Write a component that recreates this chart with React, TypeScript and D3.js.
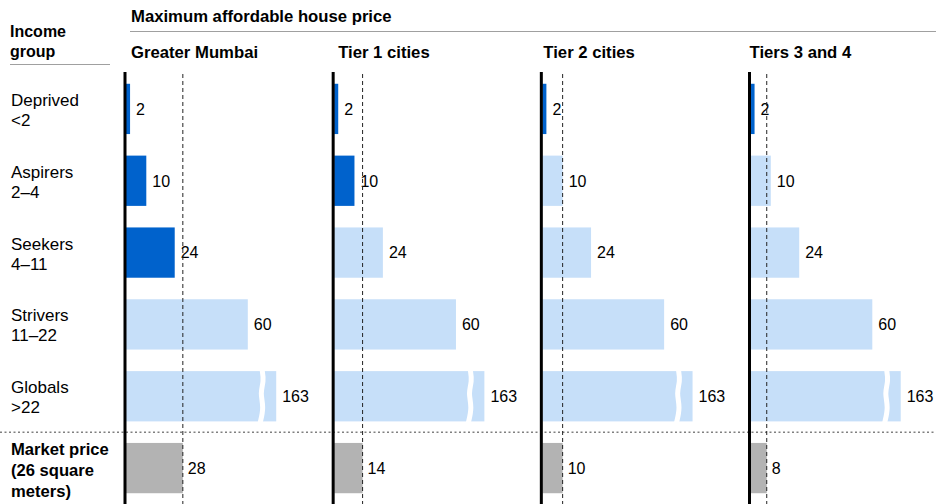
import * as d3 from "d3";

// income groups (rows) and their income bands
const groups = ["Deprived", "Aspirers", "Seekers", "Strivers", "Globals"];
const bands = ["<2", "2–4", "4–11", "11–22", ">22"];

// regions (columns)
const regions = ["Greater Mumbai", "Tier 1 cities", "Tier 2 cities", "Tiers 3 and 4"];

// maximum affordable house price per group, by region
const affordable = [
  [2, 10, 24, 60, 163],
  [2, 10, 24, 60, 163],
  [2, 10, 24, 60, 163],
  [2, 10, 24, 60, 163],
];

// market price of a 26 m² home, by region
const marketPrice = [28, 14, 10, 8];

const W = 936;
const H = 504;
const FONT = "'Liberation Sans', Arial, Helvetica, sans-serif";
const DARK = "#0062cc";
const LIGHT = "#c6dff9";
const GREY = "#b3b3b3";

const BREAK_CAP = 74; // bars above this get a break symbol
const BREAK_AT = 66.5;

const headerNudge = [6, 5, 2, 0];

export default function App() {
  const rowKeys = [...groups, "market"];

  const y = d3
    .scaleBand<string>()
    .domain(rowKeys)
    .range([73, H])
    .paddingInner(0.3)
    .paddingOuter(0.15);

  const panelX = d3.scaleLinear().domain([0, regions.length - 1]).range([125, 749.5]);
  const x = d3.scaleLinear().domain([0, 100]).range([0, 203]);

  const bw = y.bandwidth();
  const sepY = (y("Globals")! + bw + y("market")!) / 2;

  // wavy break line, in bar-local coordinates
  const wave = d3
    .line<[number, number]>()
    .x((d) => d[0])
    .y((d) => d[1])
    .curve(d3.curveBasis);

  return (
    <svg
      width={W}
      height={H}
      viewBox={`0 0 ${W} ${H}`}
      style={{ position: "absolute", left: 0, top: 0, background: "#fff" }}
      fontFamily={FONT}
    >
      {/* headers */}
      <text x={10} y={37} fontSize={16} fontWeight="bold" fill="#000">Income</text>
      <text x={10} y={57} fontSize={16} fontWeight="bold" fill="#000">group</text>
      <line x1={10} x2={110} y1={64.5} y2={64.5} stroke="#a0a0a0" strokeWidth={1.2} />
      <text x={131} y={22} fontSize={16.7} fontWeight="bold" fill="#000">
        Maximum affordable house price
      </text>
      <line x1={130} x2={W} y1={31.5} y2={31.5} stroke="#a0a0a0" strokeWidth={1.2} />

      {/* row labels */}
      {groups.map((g, i) => {
        const cy = y(g)! + bw / 2;
        return (
          <g key={g}>
            <text x={11} y={cy - 3} fontSize={17} fill="#000">{g}</text>
            <text x={11} y={cy + 17} fontSize={17} fill="#000">{bands[i]}</text>
          </g>
        );
      })}
      {(() => {
        const cy = y("market")! + bw / 2;
        return ["Market price", "(26 square", "meters)"].map((t, i) => (
          <text key={t} x={11} y={cy - 13 + i * 21} fontSize={16.6} fontWeight="bold" fill="#000">
            {t}
          </text>
        ));
      })()}

      {/* separator above market price */}
      <line
        x1={0}
        x2={W}
        y1={sepY}
        y2={sepY}
        stroke="#808080"
        strokeWidth={1.5}
        strokeDasharray="2,2.5"
      />

      {regions.map((region, r) => {
        const x0 = panelX(r);
        const mp = marketPrice[r];
        const mx = x0 + 1 + x(mp);
        return (
          <g key={region}>
            <text x={x0 + headerNudge[r]} y={58} fontSize={16.7} fontWeight="bold" fill="#000">
              {region}
            </text>

            {affordable[r].map((v, i) => {
              const top = y(groups[i])!;
              const shown = Math.min(v, BREAK_CAP);
              const w = x(shown);
              const bx = x0 + 1;
              const broken = v > BREAK_CAP;
              const bxBreak = bx + x(BREAK_AT);
              const pts: [number, number][] = [
                [bxBreak + 1, top - 2],
                [bxBreak + 3, top + 10],
                [bxBreak - 1, top + 22],
                [bxBreak + 3, top + 36],
                [bxBreak - 1, top + bw + 2],
              ];
              return (
                <g key={groups[i]}>
                  <rect x={bx} y={top} width={w} height={bw} fill={v < mp ? DARK : LIGHT} />
                  {broken && (
                    <path d={wave(pts)!} fill="none" stroke="#fff" strokeWidth={5} />
                  )}
                  <text
                    x={bx + w + 6}
                    y={top + bw / 2}
                    dy="0.36em"
                    fontSize={16}
                    fill="#000"
                  >
                    {v}
                  </text>
                </g>
              );
            })}

            {/* market price bar */}
            <rect x={x0 + 1} y={y("market")!} width={x(mp)} height={bw} fill={GREY} />
            <text
              x={mx + 5}
              y={y("market")! + bw / 2}
              dy="0.36em"
              fontSize={16}
              fill="#000"
            >
              {mp}
            </text>

            {/* market price reference line */}
            <line
              x1={mx}
              x2={mx}
              y1={74}
              y2={H}
              stroke="#222"
              strokeWidth={1}
              strokeDasharray="4,3"
            />

            {/* axis */}
            <line x1={x0} x2={x0} y1={72} y2={H} stroke="#000" strokeWidth={3} />
          </g>
        );
      })}
    </svg>
  );
}
